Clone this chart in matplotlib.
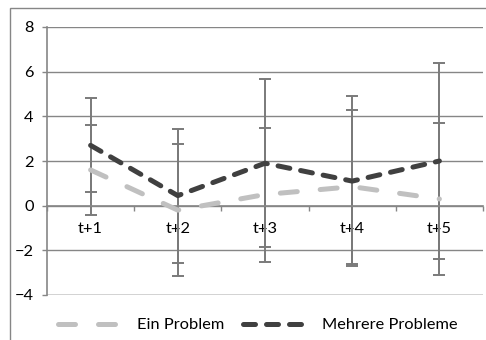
import matplotlib
matplotlib.use("Agg")
import matplotlib.pyplot as plt
import numpy as np

plt.rcParams["font.family"] = ["Lato", "DejaVu Sans"]

categories = ["t+1", "t+2", "t+3", "t+4", "t+5"]

einProblem = [1.6, -0.2, 0.5, 0.85, 0.3]
einProblemErr = [2.0, 2.95, 3.0, 3.45, 3.4]

mehrereProbleme = [2.7, 0.45, 1.9, 1.1, 2.0]
mehrereProblemeErr = [2.1, 3.0, 3.75, 3.8, 4.4]

gray = "#868686"
fs = 11.8

fig = plt.figure(figsize=(4.86, 3.40), dpi=100)
ax = fig.add_axes([47 / 486, 1 - 295 / 340, 436 / 486, 268 / 340])

# chart frame (left and top edges are the only ones in view)
frame = plt.Rectangle((10 / 486, -0.05), 1.0, 1 - 8 / 340 + 0.05,
                      transform=fig.transFigure, fill=False,
                      edgecolor=gray, linewidth=1.0, clip_on=False)
fig.patches.append(frame)

x = np.arange(1, len(categories) + 1)

ax.errorbar(x, einProblem, yerr=einProblemErr, fmt="none", ecolor="#7a7a7a",
            elinewidth=1.4, capsize=4.3, capthick=1.4, zorder=2)
ax.errorbar(x, mehrereProbleme, yerr=mehrereProblemeErr, fmt="none", ecolor="#7a7a7a",
            elinewidth=1.4, capsize=4.3, capthick=1.4, zorder=2)

lw = 3.6
lineEin, = ax.plot(x, einProblem, color="#c0c0c0", linewidth=lw,
                   linestyle=(0, (3.4, 4.6)), dash_capstyle="round",
                   label="Ein Problem", zorder=3)
lineMehr, = ax.plot(x, mehrereProbleme, color="#404040", linewidth=lw,
                    linestyle=(0, (2.4, 2.2)), dash_capstyle="round",
                    label="Mehrere Probleme", zorder=4)

ax.set_xlim(0.5, 5.5)
ax.set_ylim(-4, 8)
ax.set_yticks(range(-4, 9, 2))
ax.set_xticks(x)
ax.set_xticklabels(categories)
ax.set_xticks(np.arange(0.5, 5.6, 1), minor=True)

ax.yaxis.grid(True, color=gray, linewidth=1.0)
ax.set_axisbelow(True)

for side in ["top", "right"]:
    ax.spines[side].set_visible(False)
ax.spines["bottom"].set_position(("data", 0))
ax.spines["bottom"].set_color(gray)
ax.spines["left"].set_color(gray)
ax.spines["bottom"].set_linewidth(1.2)
ax.spines["left"].set_linewidth(1.2)
ax.axhline(-4, color=gray, linewidth=1.0, zorder=1)

ax.tick_params(axis="x", which="major", length=0, pad=12, labelsize=fs)
ax.tick_params(axis="x", which="minor", length=3.6, width=1.0, color=gray, direction="out")
ax.tick_params(axis="y", length=3.6, width=1.0, color=gray, direction="out", pad=6, labelsize=fs)

fig.legend(handles=[lineEin, lineMehr], loc="center",
           bbox_to_anchor=(258 / 486, 1 - 325 / 340), ncol=2, frameon=False,
           fontsize=fs, handlelength=3.8, handletextpad=1.0, columnspacing=1.15,
           borderpad=0)

fig.savefig("out.png", dpi=100)
